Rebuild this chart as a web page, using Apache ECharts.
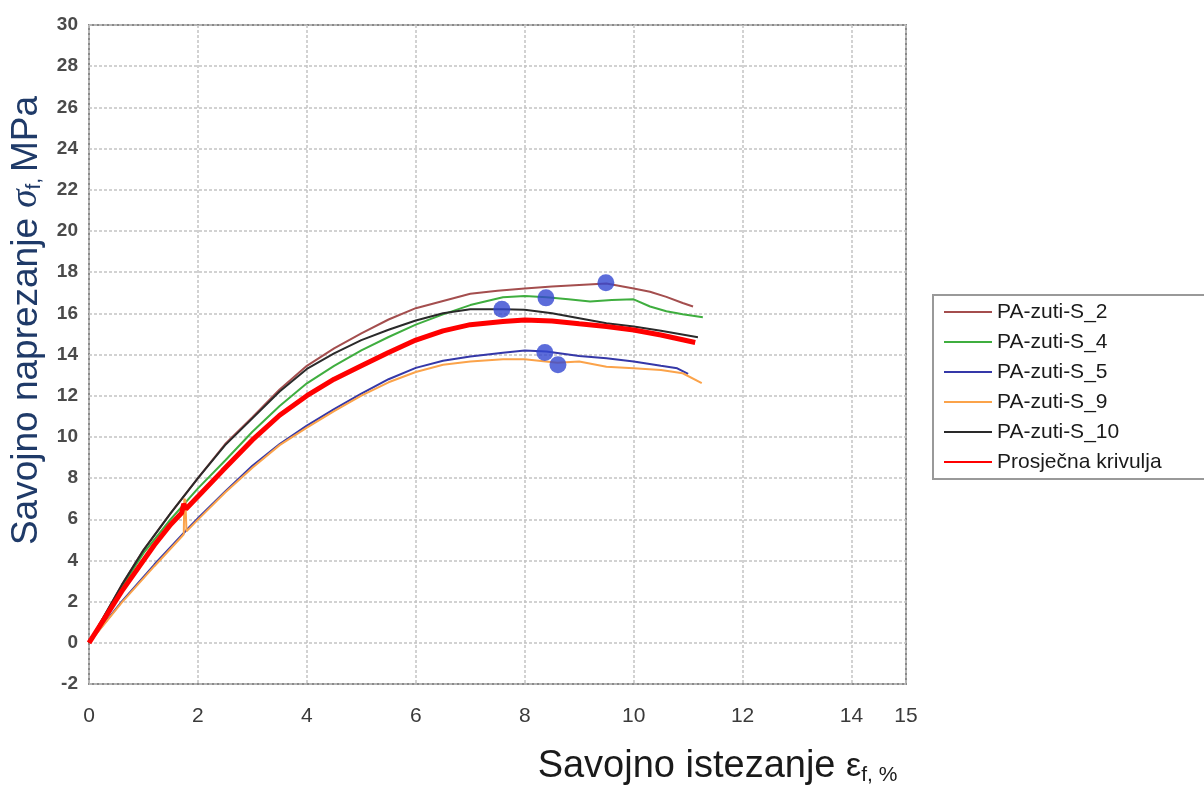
<!DOCTYPE html>
<html>
<head>
<meta charset="utf-8">
<script src="https://cdn.jsdelivr.net/npm/echarts@6/dist/echarts.min.js"></script>
<style>
html,body{margin:0;padding:0;background:#fff;}
#chart{width:1204px;height:785px;}
</style>
</head>
<body>
<div id="chart"></div>
<script>
// ---- data ----
const seriesNames = ['PA-zuti-S_2', 'PA-zuti-S_4', 'PA-zuti-S_5', 'PA-zuti-S_9', 'PA-zuti-S_10', 'Prosječna krivulja'];

const s2X = [0, 0.3, 0.6, 1, 1.5, 2, 2.5, 3, 3.5, 4, 4.5, 5, 5.5, 6, 6.5, 7, 7.5, 8, 8.5, 9, 9.5, 10, 10.3, 10.6, 10.9, 11.09];
const s2Y = [0, 1.4, 2.8, 4.5, 6.3, 8.0, 9.65, 10.95, 12.3, 13.45, 14.3, 15.03, 15.7, 16.25, 16.6, 16.95, 17.1, 17.2, 17.3, 17.38, 17.45, 17.2, 17.05, 16.8, 16.5, 16.33];

const s4X = [0, 0.3, 0.6, 1, 1.5, 2, 2.5, 3, 3.5, 4, 4.5, 5, 5.5, 6, 6.5, 7, 7.6, 8, 8.4, 8.8, 9.2, 9.6, 10, 10.3, 10.6, 10.9, 11.27];
const s4Y = [0, 1.35, 2.7, 4.35, 6.0, 7.5, 8.85, 10.25, 11.5, 12.6, 13.45, 14.2, 14.85, 15.45, 15.95, 16.4, 16.78, 16.84, 16.78, 16.68, 16.57, 16.65, 16.68, 16.33, 16.1, 15.95, 15.81];

const s5X = [0, 0.3, 0.6, 1.2, 1.8, 2, 2.5, 3, 3.5, 4, 4.5, 5, 5.5, 6, 6.5, 7, 7.6, 8, 8.4, 9, 9.5, 10, 10.5, 10.8, 11.0];
const s5Y = [0, 1.0, 2.0, 3.8, 5.5, 6.05, 7.35, 8.6, 9.65, 10.55, 11.35, 12.1, 12.8, 13.35, 13.7, 13.9, 14.09, 14.19, 14.15, 13.93, 13.82, 13.66, 13.45, 13.33, 13.06];

const s9X = [0, 0.3, 0.6, 1.2, 1.7, 1.74, 1.75, 1.77, 1.79, 2, 2.5, 3, 3.5, 4, 4.5, 5, 5.5, 6, 6.5, 7, 7.6, 8, 8.6, 9, 9.5, 10, 10.5, 10.9, 11.25];
const s9Y = [0, 0.97, 1.95, 3.72, 5.15, 5.27, 7.0, 6.9, 5.42, 5.98, 7.3, 8.5, 9.6, 10.45, 11.25, 12.0, 12.65, 13.15, 13.5, 13.66, 13.77, 13.77, 13.6, 13.66, 13.41, 13.33, 13.25, 13.09, 12.61];

const s10X = [0, 0.3, 0.6, 1, 1.5, 2, 2.5, 3, 3.5, 4, 4.5, 5, 5.5, 6, 6.5, 7, 7.6, 8, 8.5, 9, 9.5, 10, 10.5, 11.18];
const s10Y = [0, 1.4, 2.8, 4.5, 6.3, 8.0, 9.6, 10.9, 12.2, 13.3, 14.05, 14.7, 15.2, 15.65, 16.0, 16.2, 16.2, 16.17, 16.0, 15.76, 15.52, 15.36, 15.15, 14.84];

const avgX = [0, 0.3, 0.6, 1.2, 1.5, 1.7, 1.74, 1.78, 2, 2.45, 3, 3.5, 4, 4.5, 5, 5.5, 6, 6.5, 7, 7.6, 8, 8.5, 9, 9.5, 10, 10.5, 11.13];
const avgY = [0, 1.25, 2.5, 4.75, 5.75, 6.3, 6.75, 6.5, 7.1, 8.35, 9.85, 11.05, 12.0, 12.8, 13.45, 14.1, 14.7, 15.15, 15.45, 15.6, 15.68, 15.63, 15.49, 15.36, 15.19, 14.95, 14.58];

// maximum points (blue dots)
const maxX = [9.49, 8.39, 7.58, 8.37, 8.61];
const maxY = [17.48, 16.75, 16.2, 14.1, 13.5];

const xTicks = {min: 0, max: 15, interval: 2};
const yTicks = {min: -2, max: 30, interval: 2};

// ---- chart ----
const colors = ['#a44e4e', '#3fae3f', '#3538a8', '#fba34a', '#2a2a2a', '#ff0000'];
const widths = [2, 2, 2, 2, 2, 5];
const xs = [s2X, s4X, s5X, s9X, s10X, avgX];
const ys = [s2Y, s4Y, s5Y, s9Y, s10Y, avgY];

const series = seriesNames.map((name, k) => ({
  name: name,
  type: 'line',
  symbol: 'none',
  smooth: false,
  z: k === 5 ? 4 : 3,
  color: colors[k],
  lineStyle: {color: colors[k], width: widths[k]},
  data: xs[k].map((x, i) => [x, ys[k][i]])
}));
series.push({
  name: 'max',
  type: 'scatter',
  symbol: 'circle',
  symbolSize: 17,
  z: 6,
  itemStyle: {color: '#3347d1'},
  data: maxX.map((x, i) => [x, maxY[i]])
});

const chart = echarts.init(document.getElementById('chart'), null, {renderer: 'canvas'});
chart.setOption({
  animation: false,
  backgroundColor: '#fff',
  grid: {left: 89, top: 25, right: 298, bottom: 101, outerBoundsMode: 'none', containLabel: false, show: true, borderColor: '#8a8a8a', borderWidth: 2, backgroundColor: 'transparent'},
  legend: {
    data: seriesNames,
    orient: 'vertical',
    left: 933, top: 295,
    itemWidth: 48, itemHeight: 14, itemGap: 8,
    padding: [6, 60, 6, 10],
    borderColor: '#999', borderWidth: 2, backgroundColor: '#fff',
    itemStyle: {opacity: 0},
    textStyle: {fontFamily: 'Liberation Sans, Arial, sans-serif', fontSize: 21, color: '#1a1a1a', lineHeight: 22}
  },
  xAxis: {
    type: 'value', min: xTicks.min, max: xTicks.max, interval: xTicks.interval,
    axisLine: {show: false}, axisTick: {show: false},
    splitLine: {show: true, lineStyle: {color: '#c4c4c4', width: 1.5, type: [3, 2]}},
    axisLabel: {margin: 22, fontFamily: 'Liberation Sans, Arial, sans-serif', fontSize: 21, color: '#3a3a3a'},
    name: '{a|Savojno istezanje }{e|ε}{s|f, %}',
    nameLocation: 'middle', nameGap: 64,
    nameTextStyle: {
      padding: [0, 0, 0, 440],
      rich: {
        a: {fontFamily: 'Liberation Sans, Arial, sans-serif', fontSize: 38, color: '#1a1a1a'},
        e: {fontFamily: 'Liberation Sans, Arial, sans-serif', fontSize: 34, color: '#1a1a1a'},
        s: {fontFamily: 'Liberation Sans, Arial, sans-serif', fontSize: 21, color: '#1a1a1a', verticalAlign: 'bottom', padding: [12, 0, 0, 0]}
      }
    }
  },
  yAxis: {
    type: 'value', min: yTicks.min, max: yTicks.max, interval: yTicks.interval,
    axisLine: {show: false}, axisTick: {show: false},
    splitLine: {show: true, lineStyle: {color: '#c4c4c4', width: 1.5, type: [3, 2]}},
    axisLabel: {margin: 11, fontFamily: 'Liberation Sans, Arial, sans-serif', fontWeight: 'bold', fontSize: 19, color: '#4a4a4a'},
    name: '{a|Savojno naprezanje }{g|σ}{s|f, }{a|MPa}',
    nameLocation: 'middle', nameGap: 44, nameRotate: 90,
    nameTextStyle: {
      padding: [0, 0, 0, 68],
      rich: {
        a: {fontFamily: 'Liberation Sans, Arial, sans-serif', fontSize: 37, color: '#1f3a68'},
        g: {fontFamily: 'Liberation Serif, serif', fontStyle: 'italic', fontSize: 37, color: '#1f3a68'},
        s: {fontFamily: 'Liberation Sans, Arial, sans-serif', fontSize: 21, color: '#1f3a68', verticalAlign: 'bottom'}
      }
    }
  },
  series: series
});
</script>
</body>
</html>
